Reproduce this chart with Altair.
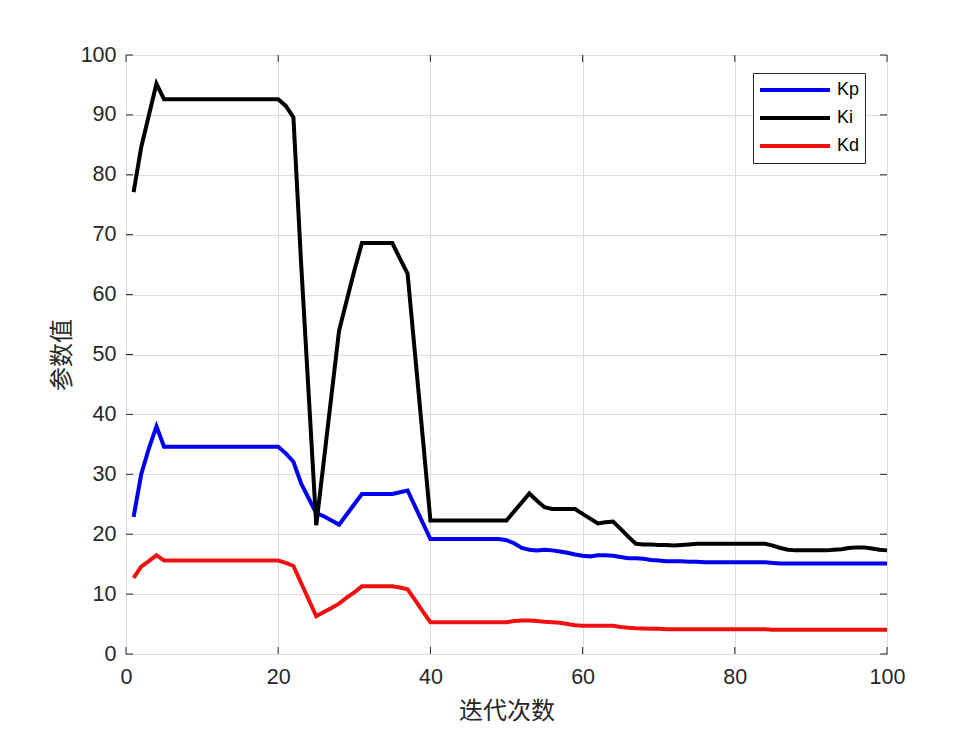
import altair as alt
import pandas as pd

iters = list(range(1, 101))

kp = [22.9, 30.0, 34.3, 38.0, 34.6, 34.6, 34.6, 34.6, 34.6, 34.6,
      34.6, 34.6, 34.6, 34.6, 34.6, 34.6, 34.6, 34.6, 34.6, 34.6,
      33.5, 32.1, 28.5, 26.0, 23.5, 23.0, 22.3, 21.6, 23.3, 25.0,
      26.7, 26.7, 26.7, 26.7, 26.7, 27.0, 27.3, 24.6, 21.9, 19.2,
      19.2, 19.2, 19.2, 19.2, 19.2, 19.2, 19.2, 19.2, 19.2, 19.0,
      18.5, 17.7, 17.4, 17.3, 17.4, 17.3, 17.1, 16.9, 16.6, 16.4,
      16.3, 16.5, 16.5, 16.4, 16.2, 16.0, 16.0, 15.9, 15.7, 15.6,
      15.5, 15.5, 15.5, 15.4, 15.4, 15.3, 15.3, 15.3, 15.3, 15.3,
      15.3, 15.3, 15.3, 15.3, 15.2, 15.1, 15.1, 15.1, 15.1, 15.1,
      15.1, 15.1, 15.1, 15.1, 15.1, 15.1, 15.1, 15.1, 15.1, 15.1]

ki = [77.1, 84.6, 89.9, 95.2, 92.6, 92.6, 92.6, 92.6, 92.6, 92.6,
      92.6, 92.6, 92.6, 92.6, 92.6, 92.6, 92.6, 92.6, 92.6, 92.6,
      91.5, 89.6, 65.5, 43.5, 21.5, 32.3, 43.2, 54.0, 59.0, 64.0,
      68.6, 68.6, 68.6, 68.6, 68.6, 66.0, 63.5, 49.8, 36.1, 22.3,
      22.3, 22.3, 22.3, 22.3, 22.3, 22.3, 22.3, 22.3, 22.3, 22.3,
      23.8, 25.3, 26.8, 25.6, 24.5, 24.2, 24.2, 24.2, 24.2, 23.4,
      22.6, 21.8, 22.0, 22.1, 20.9, 19.6, 18.4, 18.3, 18.3, 18.2,
      18.2, 18.1, 18.2, 18.3, 18.4, 18.4, 18.4, 18.4, 18.4, 18.4,
      18.4, 18.4, 18.4, 18.4, 18.1, 17.7, 17.4, 17.3, 17.3, 17.3,
      17.3, 17.3, 17.4, 17.5, 17.7, 17.8, 17.8, 17.6, 17.4, 17.3]

kd = [12.7, 14.6, 15.5, 16.5, 15.6, 15.6, 15.6, 15.6, 15.6, 15.6,
      15.6, 15.6, 15.6, 15.6, 15.6, 15.6, 15.6, 15.6, 15.6, 15.6,
      15.2, 14.7, 11.9, 9.1, 6.3, 7.0, 7.7, 8.4, 9.4, 10.3,
      11.3, 11.3, 11.3, 11.3, 11.3, 11.1, 10.8, 9.0, 7.1, 5.3,
      5.3, 5.3, 5.3, 5.3, 5.3, 5.3, 5.3, 5.3, 5.3, 5.3,
      5.5, 5.6, 5.6, 5.5, 5.4, 5.3, 5.2, 5.0, 4.8, 4.7,
      4.7, 4.7, 4.7, 4.7, 4.5, 4.4, 4.3, 4.25, 4.2, 4.2,
      4.15, 4.15, 4.15, 4.15, 4.15, 4.15, 4.15, 4.15, 4.15, 4.15,
      4.15, 4.15, 4.15, 4.15, 4.05, 4.05, 4.05, 4.05, 4.05, 4.05,
      4.05, 4.05, 4.05, 4.05, 4.05, 4.05, 4.05, 4.05, 4.05, 4.05]

series_names = ["Kp", "Ki", "Kd"]
series_colors = ["#0000f0", "#000000", "#f01010"]
x_ticks = [0, 20, 40, 60, 80, 100]
y_ticks = [0, 10, 20, 30, 40, 50, 60, 70, 80, 90, 100]

W, H = 761, 599

rows = []
for name, vals in zip(series_names, [kp, ki, kd]):
    for i, v in zip(iters, vals):
        rows.append({"iter": i, "value": v, "series": name})
df = pd.DataFrame(rows)

xscale = alt.Scale(domain=[0, 100], nice=False, zero=False)
yscale = alt.Scale(domain=[0, 100], nice=False)
xaxis = alt.Axis(values=x_ticks, title="迭代次数", grid=True, labelFlush=False)
yaxis = alt.Axis(values=y_ticks, title="参数值", grid=True, labelFlush=False)

lines = alt.Chart(df).mark_line(strokeWidth=4, strokeJoin="miter").encode(
    x=alt.X("iter:Q", scale=xscale, axis=xaxis),
    y=alt.Y("value:Q", scale=yscale, axis=yaxis),
    color=alt.Color("series:N",
                    scale=alt.Scale(domain=series_names, range=series_colors),
                    legend=alt.Legend(orient="none", legendX=627, legendY=18,
                                      title=None, symbolType="stroke",
                                      symbolSize=4900, symbolStrokeWidth=4,
                                      clipHeight=24, rowPadding=4, padding=5,
                                      strokeColor="#262626", fillColor="white",
                                      labelFontSize=18, labelFont="Liberation Sans",
                                      labelColor="#000000", labelOffset=5)),
    order=alt.Order("iter:Q"),
)

xt = pd.DataFrame({"iter": x_ticks})
yt = pd.DataFrame({"value": y_ticks})
tick_color = "#262626"

bottom_ticks = alt.Chart(xt).mark_rule(color=tick_color, strokeWidth=1).encode(
    x=alt.X("iter:Q", scale=xscale, axis=xaxis), y=alt.value(H), y2=alt.value(H - 7))
top_ticks = alt.Chart(xt).mark_rule(color=tick_color, strokeWidth=1).encode(
    x=alt.X("iter:Q", scale=xscale, axis=xaxis), y=alt.value(0), y2=alt.value(7))
left_ticks = alt.Chart(yt).mark_rule(color=tick_color, strokeWidth=1).encode(
    y=alt.Y("value:Q", scale=yscale, axis=yaxis), x=alt.value(0), x2=alt.value(7))
right_ticks = alt.Chart(yt).mark_rule(color=tick_color, strokeWidth=1).encode(
    y=alt.Y("value:Q", scale=yscale, axis=yaxis), x=alt.value(W), x2=alt.value(W - 7))

chart = alt.layer(lines, bottom_ticks, top_ticks, left_ticks, right_ticks).properties(
    width=W, height=H,
    autosize=alt.AutoSizeParams(type="none"),
    padding={"left": 118, "top": 47, "right": 85, "bottom": 73},
    background="white",
).configure_view(
    stroke="#262626", strokeWidth=1
).configure_axis(
    domain=False, ticks=False, tickSize=0,
    gridColor="#dcdcdc", gridWidth=1,
    labelFont="Liberation Sans", labelFontSize=21.5, labelColor="#262626",
    titleFont="Noto Sans CJK SC", titleFontSize=24, titleFontWeight="normal",
    titleColor="#262626",
).configure_axisX(
    labelPadding=12, titlePadding=12,
).configure_axisY(
    labelPadding=10, titlePadding=6,
)

chart.save("out.html", embed_options={"renderer": "svg", "actions": False})
